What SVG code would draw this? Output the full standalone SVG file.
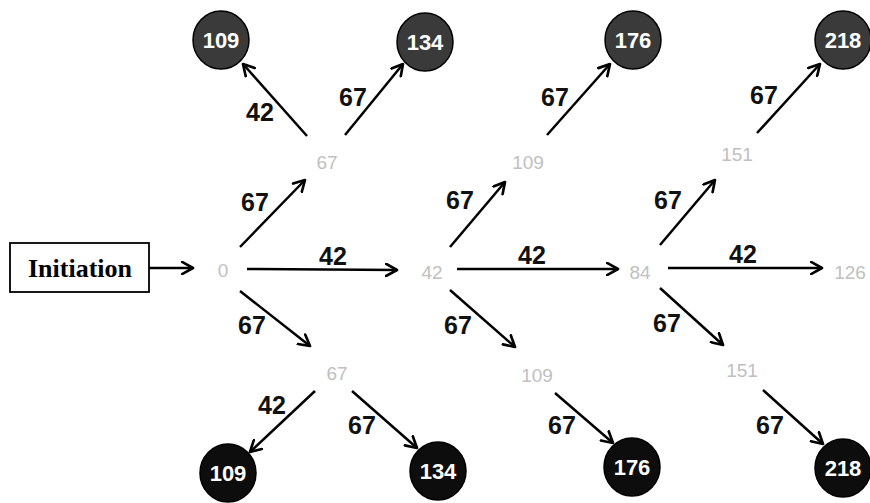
<svg xmlns="http://www.w3.org/2000/svg" width="870" height="503" viewBox="0 0 870 503">
<style>
.edge{stroke:#000;stroke-width:2.5;fill:none;marker-end:url(#arr)}
.el{font-family:"Liberation Sans Narrow","Arial Narrow","Liberation Sans",Arial,sans-serif;font-weight:bold;font-size:25px;fill:#111;text-anchor:middle}
.mid{font-family:"Liberation Sans",Arial,sans-serif;font-size:19px;fill:#c0c0c0;text-anchor:middle}
.leaf{font-family:"Liberation Sans",Arial,sans-serif;font-weight:bold;font-size:22px;fill:#fff;text-anchor:middle}
.top{fill:#3a3a3a;stroke:#000;stroke-width:1.5}
.bot{fill:#0d0d0d;stroke:#000;stroke-width:1.5}
</style>
<defs>
<marker id="arr" viewBox="0 0 12 12" refX="10" refY="6" markerWidth="5.8" markerHeight="5.8" markerUnits="strokeWidth" orient="auto">
<path d="M1,1 L10,6 L1,11" fill="none" stroke="#000" stroke-width="2.2" stroke-linecap="round" stroke-linejoin="round"/>
</marker>
</defs>
<rect width="870" height="503" fill="#fff"/>
<g id="connectors">
<path class="edge" d="M149,268 L193,268"/>
<path class="edge" d="M240,247 L305,180"/>
<path class="edge" d="M247,269 L397,270"/>
<path class="edge" d="M240,291 L310,346"/>
<path class="edge" d="M307,136 L243,64"/>
<path class="edge" d="M345,135 L403,64"/>
<path class="edge" d="M450,247 L505,182"/>
<path class="edge" d="M457,269 L618,269"/>
<path class="edge" d="M450,290 L515,347"/>
<path class="edge" d="M547,135 L610,64"/>
<path class="edge" d="M660,245 L715,180"/>
<path class="edge" d="M668,268 L822,268"/>
<path class="edge" d="M660,288 L723,345"/>
<path class="edge" d="M757,133 L820,64"/>
<path class="edge" d="M315,391 L250,452"/>
<path class="edge" d="M352,391 L417,448"/>
<path class="edge" d="M555,393 L613,443"/>
<path class="edge" d="M763,390 L823,444"/>
<text class="el" x="255" y="211">67</text>
<text class="el" x="333" y="265">42</text>
<text class="el" x="252" y="334">67</text>
<text class="el" x="260" y="121">42</text>
<text class="el" x="353" y="106">67</text>
<text class="el" x="460" y="209">67</text>
<text class="el" x="532" y="264">42</text>
<text class="el" x="458" y="334">67</text>
<text class="el" x="555" y="106">67</text>
<text class="el" x="668" y="209">67</text>
<text class="el" x="743" y="263">42</text>
<text class="el" x="667" y="332">67</text>
<text class="el" x="764" y="104">67</text>
<text class="el" x="272" y="414">42</text>
<text class="el" x="362" y="434">67</text>
<text class="el" x="562" y="434">67</text>
<text class="el" x="770" y="434">67</text>
</g>
<g id="initiation">
<rect x="10" y="243" width="139" height="49" fill="#fff" stroke="#000" stroke-width="1.8"/>
<text x="80" y="277" font-family="'Liberation Serif','Times New Roman',serif" font-weight="bold" font-size="26" text-anchor="middle" fill="#000">Initiation</text>
</g>
<g id="n0"><text class="mid" x="223" y="277">0</text></g>
<g id="n67t"><text class="mid" x="327" y="169">67</text></g>
<g id="n42"><text class="mid" x="432" y="279">42</text></g>
<g id="n84"><text class="mid" x="640" y="279">84</text></g>
<g id="n126"><text class="mid" x="850" y="279">126</text></g>
<g id="n109t"><text class="mid" x="528" y="169">109</text></g>
<g id="n151t"><text class="mid" x="737" y="161">151</text></g>
<g id="n67b"><text class="mid" x="337" y="380">67</text></g>
<g id="n109b"><text class="mid" x="537" y="382">109</text></g>
<g id="n151b"><text class="mid" x="742" y="377">151</text></g>
<g id="l109t"><ellipse class="top" cx="221" cy="40" rx="28" ry="29"/><text class="leaf" x="221" y="48">109</text></g>
<g id="l134t"><ellipse class="top" cx="425" cy="42" rx="28" ry="29"/><text class="leaf" x="425" y="50">134</text></g>
<g id="l176t"><ellipse class="top" cx="633" cy="40" rx="28" ry="29"/><text class="leaf" x="633" y="48">176</text></g>
<g id="l218t"><ellipse class="top" cx="843" cy="40" rx="28" ry="29"/><text class="leaf" x="843" y="48">218</text></g>
<g id="l109b"><ellipse class="bot" cx="228" cy="473" rx="28" ry="29"/><text class="leaf" x="228" y="481">109</text></g>
<g id="l134b"><ellipse class="bot" cx="438" cy="471" rx="28" ry="29"/><text class="leaf" x="438" y="479">134</text></g>
<g id="l176b"><ellipse class="bot" cx="632" cy="467" rx="28" ry="29"/><text class="leaf" x="632" y="475">176</text></g>
<g id="l218b"><ellipse class="bot" cx="843" cy="468" rx="28" ry="29"/><text class="leaf" x="843" y="476">218</text></g>
</svg>
